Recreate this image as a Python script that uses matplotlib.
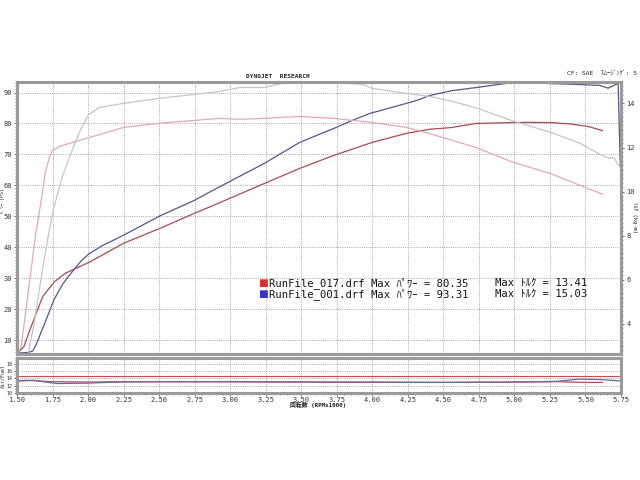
import matplotlib
matplotlib.use("Agg")
import matplotlib.pyplot as plt
from matplotlib.ticker import MultipleLocator, FormatStrFormatter

plt.rcParams['font.family'] = ['DejaVu Sans Mono', 'Noto Sans CJK JP']

# ---- data (RPM x1000) ----
blue_pw_rpm = [1.51, 1.58, 1.61, 1.63, 1.70, 1.76, 1.82, 1.88, 1.95, 2.01, 2.10, 2.25, 2.50, 2.75, 2.85,
               3.24, 3.49, 3.73, 3.86, 3.98, 4.24, 4.33, 4.40, 4.56, 4.73, 5.00, 5.25, 5.45, 5.60, 5.66,
               5.70, 5.73, 5.745]
blue_pw = [5.8, 6.0, 6.5, 8.0, 16.0, 23.0, 28.0, 31.6, 35.5, 38.0, 40.5, 43.9, 50.0, 55.2, 57.7,
           67.1, 73.9, 78.4, 81.0, 83.2, 86.5, 87.7, 89.0, 90.6, 91.6, 93.31, 92.9, 92.6, 92.3, 91.4,
           92.3, 92.9, 66.0]

red_pw_rpm = [1.51, 1.55, 1.58, 1.63, 1.68, 1.76, 1.84, 2.01, 2.25, 2.50, 2.75, 2.85, 3.24, 3.49, 3.73,
              4.00, 4.24, 4.40, 4.56, 4.73, 4.99, 5.10, 5.25, 5.40, 5.52, 5.62]
red_pw = [6.1, 8.0, 12.0, 18.0, 24.0, 28.7, 31.6, 35.2, 41.3, 46.0, 51.0, 52.9, 60.6, 65.5, 69.7,
          73.9, 76.8, 78.1, 78.7, 80.0, 80.3, 80.35, 80.3, 79.8, 79.0, 77.7]

gray_tq_rpm = [1.58, 1.62, 1.68, 1.72, 1.76, 1.82, 1.88, 1.94, 2.00, 2.08, 2.25, 2.50, 2.75, 2.92, 3.07,
               3.24, 3.36, 3.49, 3.60, 3.73, 3.93, 4.00, 4.24, 4.40, 4.56, 4.73, 4.99, 5.25, 5.46, 5.60,
               5.67, 5.70, 5.73]
gray_tq = [2.7, 4.0, 6.5, 8.0, 9.3, 10.7, 11.74, 12.7, 13.46, 13.82, 14.0, 14.23, 14.41, 14.54, 14.72,
           14.72, 14.9, 14.95, 15.03, 14.95, 14.86, 14.68, 14.45, 14.32, 14.1, 13.8, 13.2, 12.7, 12.2, 11.7,
           11.5, 11.55, 11.2]

pink_tq_rpm = [1.51, 1.53, 1.58, 1.63, 1.67, 1.70, 1.73, 1.75, 1.80, 1.87, 1.99, 2.25, 2.50, 2.75, 2.92,
               3.06, 3.24, 3.49, 3.73, 3.86, 3.99, 4.24, 4.40, 4.56, 4.73, 4.99, 5.25, 5.46, 5.62]
pink_tq = [2.7, 3.0, 5.5, 8.0, 9.6, 10.9, 11.6, 11.87, 12.05, 12.19, 12.42, 12.91, 13.1, 13.23, 13.32,
           13.28, 13.32, 13.41, 13.32, 13.23, 13.14, 12.91, 12.64, 12.33, 12.0, 11.33, 10.83, 10.29, 9.88]

blue_af_rpm = [1.50, 1.62, 1.70, 1.78, 2.00, 2.20, 2.50, 3.00, 3.50, 4.00, 4.50, 5.00, 5.30, 5.45, 5.60, 5.75]
blue_af = [13.4, 13.5, 13.0, 12.6, 12.7, 13.0, 13.1, 13.1, 13.0, 13.0, 12.9, 13.0, 13.2, 13.8, 13.7, 13.3]
red_af_rpm = [1.50, 1.60, 1.75, 2.00, 2.25, 3.00, 3.50, 4.20, 4.50, 5.00, 5.30, 5.50, 5.62]
red_af = [13.3, 13.4, 13.1, 13.0, 13.1, 13.1, 13.0, 12.9, 12.9, 13.0, 13.1, 12.9, 12.9]

x_ticks = [1.50, 1.75, 2.00, 2.25, 2.50, 2.75, 3.00, 3.25, 3.50, 3.75, 4.00, 4.25, 4.50, 4.75, 5.00, 5.25, 5.50, 5.75]
pw_ticks = [10, 20, 30, 40, 50, 60, 70, 80, 90]
tq_ticks = [4, 6, 8, 10, 12, 14]
af_ticks = [10, 12, 14, 16, 18]

legend_rows = [("RunFile_017.drf Max ﾊﾟﾜｰ = 80.35", "Max ﾄﾙｸ = 13.41", "#d83030"),
               ("RunFile_001.drf Max ﾊﾟﾜｰ = 93.31", "Max ﾄﾙｸ = 15.03", "#3535c8")]

# ---- figure ----
fig = plt.figure(figsize=(6.4, 4.8), dpi=100)
L, R = 17 / 640, 621 / 640
ax = fig.add_axes([L, 1 - 354 / 480, R - L, (354 - 82) / 480])
axa = fig.add_axes([L, 1 - 393 / 480, R - L, (393 - 358) / 480])
ax2 = ax.twinx()

grid_kw = dict(color="#8a8a8a", linewidth=0.6, linestyle=(0, (1, 1.6)))
frame_col = "#9a9a9a"

ax.set_xlim(1.5, 5.75)
ax.set_ylim(5.5, 93.4)
ax2.set_ylim(2.64, 14.97)
axa.set_xlim(1.5, 5.75)
axa.set_ylim(10, 19.6)

for a in (ax, axa):
    a.set_xticks(x_ticks)
    a.xaxis.set_minor_locator(MultipleLocator(0.05))
    a.grid(True, which="major", **grid_kw)
    for s in a.spines.values():
        s.set_color(frame_col)
        s.set_linewidth(2.2)
ax.set_yticks(pw_ticks)
ax.yaxis.set_minor_locator(MultipleLocator(1))
ax.tick_params(axis="x", labelbottom=False, length=0, which="both")
ax.tick_params(axis="y", labelsize=5, length=2, width=0.6, color="#555555", pad=1.5, labelcolor="#333333")
ax.tick_params(axis="y", which="minor", length=1.5, width=0.5, color="#555555")
ax2.set_yticks(tq_ticks)
ax2.yaxis.set_minor_locator(MultipleLocator(0.2))
ax2.tick_params(axis="y", labelsize=5, length=2, width=0.6, color="#555555", pad=2, labelcolor="#333333")
ax2.tick_params(axis="y", which="minor", length=1.5, width=0.5, color="#555555")
for s in ax2.spines.values():
    s.set_color(frame_col)
    s.set_linewidth(2.2)

axa.set_yticks(af_ticks)
axa.yaxis.set_minor_locator(MultipleLocator(0.5))
axa.xaxis.set_major_formatter(FormatStrFormatter("%.2f"))
axa.tick_params(axis="x", labelsize=5, length=2, width=0.6, color="#555555", pad=1.0, labelcolor="#333333")
axa.tick_params(axis="y", labelsize=3.6, length=2, width=0.6, color="#555555", pad=1.0, labelcolor="#333333")
axa.tick_params(axis="both", which="minor", length=1.2, width=0.5, color="#555555")

# curves
ax2.plot(gray_tq_rpm, gray_tq, color="#c4c4d0", lw=0.9, zorder=2)
ax2.plot(pink_tq_rpm, pink_tq, color="#e2aab2", lw=0.9, zorder=2)
ax.plot(red_pw_rpm, red_pw, color="#a84a55", lw=0.9, zorder=3)
ax.plot(blue_pw_rpm, blue_pw, color="#56568c", lw=0.9, zorder=3)

axa.axhline(14.6, color="#d04848", lw=0.8)
axa.plot(red_af_rpm, red_af, color="#b04a60", lw=0.9)
axa.plot(blue_af_rpm, blue_af, color="#6a6a9a", lw=0.9)

# text
fig.text(278 / 640, 1 - 76 / 480, "DYNOJET  RESEARCH", fontsize=4.5, weight="bold",
         ha="center", va="center", color="#222222")
fig.text(637 / 640, 1 - 73 / 480, "CF: SAE  ｽﾑｰｼﾞﾝｸﾞ: 5", fontsize=4.5,
         ha="right", va="center", color="#222222")
fig.text(318 / 640, 1 - 405 / 480, "回転数 (RPMx1000)", fontsize=4.2, weight="bold",
         ha="center", va="center", color="#222222")
fig.text(3 / 640, 1 - 200 / 480, "ﾊﾟﾜｰ (PS)", fontsize=3.6, rotation=90,
         ha="center", va="center", color="#222222")
fig.text(635 / 640, 1 - 218 / 480, "ﾄﾙｸ (kg-m)", fontsize=4, rotation=270,
         ha="center", va="center", color="#222222")
fig.text(3 / 640, 1 - 376 / 480, "Air/Fuel", fontsize=3.6, rotation=90,
         ha="center", va="center", color="#222222")

for i, (t1, t2, c) in enumerate(legend_rows):
    yc = 1 - (283 + 11 * i) / 480
    fig.text(263 / 640, yc, "\u25A0", fontsize=7.5, color=c, ha="center", va="center",
             family=["DejaVu Sans"])
    fig.text(269 / 640, yc, t1, fontsize=7.6, ha="left", va="center", color="#111111")
    fig.text(495 / 640, yc, t2, fontsize=7.6, ha="left", va="center", color="#111111")

fig.savefig("out.png", dpi=100)
